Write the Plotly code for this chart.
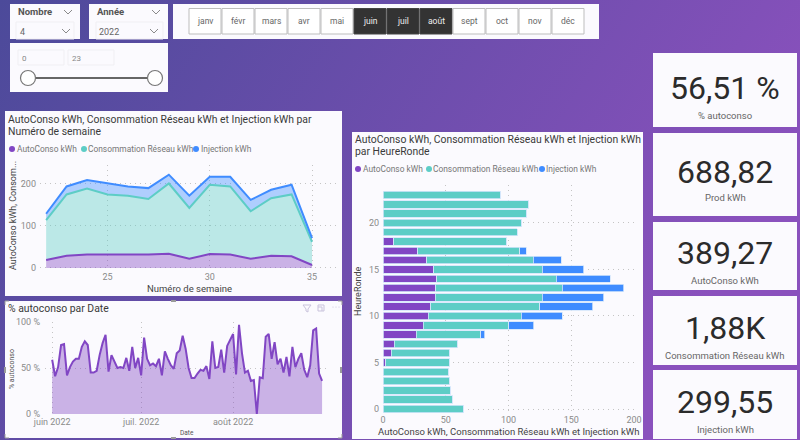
import base64
import pandas as pd
import plotly.graph_objects as go

# --- data ---
semaines = [22, 23, 24, 25, 26, 27, 28, 29, 30, 31, 32, 33, 34, 35]
sem_autoconso = [19, 29, 32, 32, 31, 32, 34, 22, 33, 32, 22, 29, 28, 7]
sem_reseau = [95, 146, 157, 143, 141, 132, 167, 121, 165, 162, 113, 137, 147, 55]
sem_injection = [15, 19, 20, 26, 22, 26, 21, 29, 19, 23, 27, 20, 23, 9]

heures = list(range(24))
h_autoconso = [0, 0, 0, 0, 0, 2, 6.4, 9, 26.5, 32, 36, 38, 41.6, 42, 43, 40.5, 35, 27.5, 8.5, 0, 0, 0, 0, 0]
h_reseau = [64, 55.4, 54, 53, 52.5, 51, 46.6, 50.3, 51.5, 68, 74, 87, 85.4, 101, 95, 86.5, 84.7, 81.5, 90, 107, 110, 114.7, 116, 94]
h_injection = [0, 0, 0, 0, 0, 0, 0, 0, 3, 20, 33, 42, 49, 49, 43, 33, 22.3, 5, 0, 0, 0, 0, 0, 0]

pct_autoconso = [
    59, 41, 51, 75, 76, 42, 51, 57, 60, 60, 73, 79, 75, 45, 45, 47, 64, 77, 86, 46,
    64, 57, 50, 51, 50, 61, 47, 73, 50, 61, 42, 83, 60, 53, 55, 52, 60, 42, 68, 60,
    53, 49, 66, 69, 85, 71, 50, 39, 39, 44, 48, 47, 52, 38, 79, 50, 51, 70, 45, 74,
    80, 87, 43, 97, 66, 45, 47, 36, 37, 0, 40, 39, 84, 87, 60, 78, 54, 60, 45, 62,
    41, 73, 51, 60, 66, 48, 40, 53, 91, 93, 44, 36,
]
dates = pd.date_range("2022-06-01", periods=len(pct_autoconso), freq="D")

mois = ["janv", "févr", "mars", "avr", "mai", "juin", "juil", "août", "sept", "oct", "nov", "déc"]
mois_actifs = ["juin", "juil", "août"]

kpi_valeurs = ["56,51 %", "688,82", "389,27", "1,88K", "299,55"]
kpi_noms = ["% autoconso", "Prod kWh", "AutoConso kWh", "Consommation Réseau kWh", "Injection kWh"]

VIOLET = "#8146c4"
TURQUOISE = "#5dcdc6"
BLEU = "#3f8cff"
PANEL = "#fbfafe"
FONT = "Roboto"
W, H = 800, 440


def fx(px):
    return px / W


def fy(py):
    return 1 - py / H


shapes = []
annotations = []


def rect(x0, y0, x1, y1, fill=PANEL, line=None, width=1):
    shapes.append(dict(type="rect", xref="paper", yref="paper", x0=fx(x0), y0=fy(y0), x1=fx(x1), y1=fy(y1),
                       fillcolor=fill, line=dict(color=line, width=width if line else 0), layer="below"))


def circle(cx, cy, r, fill, line=None, width=1, layer="below"):
    shapes.append(dict(type="circle", xref="paper", yref="paper", x0=fx(cx - r), y0=fy(cy - r), x1=fx(cx + r), y1=fy(cy + r),
                       fillcolor=fill, line=dict(color=line, width=width if line else 0), layer=layer))


def path(points, color="#777777", width=1, layer="below"):
    d = "M " + " L ".join(f"{fx(x):.5f} {fy(y):.5f}" for x, y in points)
    shapes.append(dict(type="path", xref="paper", yref="paper", path=d, line=dict(color=color, width=width), layer=layer))


def text(x, y, s, size=9, color="#777777", anchor="left", angle=0):
    annotations.append(dict(xref="paper", yref="paper", x=fx(x), y=fy(y), text=s, showarrow=False, xanchor=anchor,
                            yanchor="middle", textangle=angle, font=dict(family=FONT, size=size, color=color),
                            borderpad=0, borderwidth=0))


def chevron(cx, cy):
    path([(cx - 4, cy - 2), (cx, cy + 2), (cx + 4, cy - 2)], "#8a8a8a")


# --- slicers ---
rect(10, 4, 80, 39)
rect(89, 4, 168, 39)
rect(173, 4, 599, 39)
rect(10, 43, 168, 92)

text(18, 12, "<b>Nombre</b>", 9.5, "#555555")
chevron(68, 12)
rect(16, 22, 74, 39, PANEL, "#f0eff3")
text(20, 32, "4", 9, "#666666")
chevron(66, 31)

text(97, 12, "<b>Année</b>", 9.5, "#555555")
chevron(156, 12)
rect(96, 22, 163, 39, PANEL, "#f0eff3")
text(99, 32, "2022", 9, "#666666")
chevron(154, 31)

for i, m in enumerate(mois):
    x0 = 189 + 33 * i
    actif = m in mois_actifs
    rect(x0, 8.5, x0 + 32, 34, "#333333" if actif else "#ffffff", "#444444" if actif else "#bdbdbd")
    text(x0 + 16, 21, m, 8.5, "#eeeeee" if actif else "#666666", "center")

rect(18, 50, 64, 65, PANEL, "#f0eff3")
rect(68, 50, 114, 65, PANEL, "#f0eff3")
text(22, 58, "0", 8, "#888888")
text(72, 58, "23", 8, "#888888")
path([(28, 78), (155, 78)], "#666666", 2)
circle(28, 78, 7.5, "#ffffff", "#777777", 1.2)
circle(155, 78, 7.5, "#ffffff", "#777777", 1.2)

# --- KPI cards ---
cartes = [(53, 127, 88, 115), (133, 216, 172, 198), (222, 290, 253, 280), (296, 365, 328, 355), (370, 439, 402, 429)]
for (y0, y1, yv, yn), v, n in zip(cartes, kpi_valeurs, kpi_noms):
    rect(653, y0, 797, y1)
    text(725, yv, v, 32, "#2b2b2b", "center")
    text(725, yn, n, 9.5, "#666666", "center")

# --- area panel ---
rect(5, 111, 342, 296)
titre = "AutoConso kWh, Consommation Réseau kWh et Injection kWh par"
text(8, 119, titre, 10.4, "#3a3a3a")
text(8, 131, "Numéro de semaine", 10.4, "#3a3a3a")
for cx, tx, nom, col in [(12, 17, "AutoConso kWh", VIOLET), (84, 88, "Consommation Réseau kWh", TURQUOISE), (196, 201, "Injection kWh", BLEU)]:
    circle(cx, 149, 3, col)
    text(tx, 149, nom, 8.4)
text(13, 216, "AutoConso kWh, Consom...", 9, "#444444", "center", -90)
text(189, 288, "Numéro de semaine", 9.5, "#444444", "center")

# --- line panel ---
rect(5, 301, 342, 438)
text(8, 308, "% autoconso par Date", 10.4, "#3a3a3a")
text(12, 369, "% autoconso", 7, "#555555", "center", -90)
text(187, 433, "Date", 6.5, "#555555", "center")
path([(303, 305), (311, 305), (308, 309), (308, 312), (306, 311), (306, 309), (303, 305)], "#c9c3dc")
path([(318, 307), (318, 305), (324, 305), (324, 311), (322, 311)], "#c9c3dc")
path([(318, 307), (322, 307), (322, 311), (318, 311), (318, 307)], "#c9c3dc")
for x in (333, 336, 339):
    circle(x, 307, 0.6, "#c9c3dc")
for x0, y0, x1, y1 in [(171, 300, 176, 302), (171, 437, 176, 439), (4, 367, 6, 373), (340, 367, 342, 373)]:
    rect(x0, y0, x1, y1, "#9a9a9a")
for cx, cy, dx, dy in [(5, 301, 1, 1), (342, 301, -1, 1), (5, 438, 1, -1), (342, 438, -1, -1)]:
    path([(cx, cy + 4 * dy), (cx, cy), (cx + 4 * dx, cy)], "#9a9a9a")

# --- bar panel ---
rect(352, 132, 643, 439)
text(355, 139, "AutoConso kWh, Consommation Réseau kWh et Injection kWh", 10.4, "#3a3a3a")
text(355, 151, "par HeureRonde", 10.4, "#3a3a3a")
for cx, tx, nom, col in [(358, 363, "AutoConso kWh", VIOLET), (429, 433, "Consommation Réseau kWh", TURQUOISE), (542, 546, "Injection kWh", BLEU)]:
    circle(cx, 169, 3, col)
    text(tx, 169, nom, 8.4)
text(358, 291, "HeureRonde", 9, "#444444", "center", -90)
text(508, 431, "AutoConso kWh, Consommation Réseau kWh et Injection kWh", 9.5, "#444444", "center")

fig = go.Figure()

# stacked area by week
for nom, vals, col, fill in [
    ("AutoConso kWh", sem_autoconso, VIOLET, "rgba(129,70,196,0.4)"),
    ("Consommation Réseau kWh", sem_reseau, TURQUOISE, "rgba(93,205,198,0.4)"),
    ("Injection kWh", sem_injection, BLEU, "rgba(63,140,255,0.4)"),
]:
    fig.add_trace(go.Scatter(x=semaines, y=vals, name=nom, stackgroup="a", mode="lines",
                             line=dict(color=col, width=2), fillcolor=fill, xaxis="x", yaxis="y"))

# % autoconso by day
fig.add_trace(go.Scatter(x=dates, y=pct_autoconso, mode="lines", name="% autoconso", line=dict(color=VIOLET, width=2),
                         fill="tozeroy", fillcolor="rgba(129,70,196,0.4)", xaxis="x2", yaxis="y2"))

# stacked bars by hour
for nom, vals, col in [("AutoConso kWh", h_autoconso, VIOLET), ("Consommation Réseau kWh", h_reseau, TURQUOISE), ("Injection kWh", h_injection, BLEU)]:
    fig.add_trace(go.Bar(y=heures, x=vals, name=nom, orientation="h", marker=dict(color=col, line=dict(color="#d5e6fb", width=0.8)),
                         xaxis="x3", yaxis="y3"))

tick = dict(family=FONT, size=9, color="#8a8a8a")
grille = dict(showgrid=True, gridcolor="#c4c4c4", griddash="1px,4px", gridwidth=1, zeroline=False, showline=False, ticks="", tickfont=tick, automargin=False)

fig.update_layout(
    width=W, height=H, margin=dict(l=0, r=0, t=0, b=0), showlegend=False, barmode="stack", bargap=0.2,
    paper_bgcolor="#6a4aa8", plot_bgcolor="rgba(0,0,0,0)", shapes=shapes, annotations=annotations,
    xaxis=dict(domain=[fx(40), fx(338)], range=[21.7, 36.27], tickvals=[25, 30, 35], anchor="y", **grille),
    yaxis=dict(domain=[fy(270), fy(165)], range=[-4.8, 245], tickvals=[0, 100, 200], anchor="x", ticklabelstandoff=3, **grille),
    xaxis2=dict(domain=[fx(45), fx(328)], range=["2022-05-29 14:00", "2022-09-02"], tickvals=["2022-06-01", "2022-07-01", "2022-08-01"],
                ticktext=["juin 2022", "juil. 2022", "août 2022"], ticklabelstandoff=1, anchor="y2", **grille),
    yaxis2=dict(domain=[fy(414), fy(322)], range=[0, 100], tickvals=[0, 50, 100], ticktext=["0 %", "50 %", "100 %"], ticklabelstandoff=4, anchor="x2", **grille),
    xaxis3=dict(domain=[fx(383), fx(634)], range=[0, 200], tickvals=[0, 50, 100, 150, 200], anchor="y3", **grille),
    yaxis3=dict(domain=[fy(413), fy(185)], range=[-0.43, 24.08], tickvals=[0, 5, 10, 15, 20], ticklabelstandoff=3, anchor="x3", **grille),
)

# purple page gradient behind everything
svg = ('<svg xmlns="http://www.w3.org/2000/svg" width="800" height="440" preserveAspectRatio="none">'
       '<defs><linearGradient id="g" x1="0" y1="0" x2="1" y2="0.35">'
       '<stop offset="0" stop-color="#4c4a9a"/><stop offset="1" stop-color="#8a51bd"/></linearGradient></defs>'
       '<rect width="800" height="440" fill="url(#g)"/></svg>')
fig.add_layout_image(dict(source="data:image/svg+xml;base64," + base64.b64encode(svg.encode()).decode(), xref="paper", yref="paper",
                          x=0, y=1, sizex=1, sizey=1, sizing="stretch", xanchor="left", yanchor="top", layer="below"))

# default body margin would shift the whole page
fig.write_html("out.html", config={"displayModeBar": False}, post_script="document.body.style.margin='0';")
